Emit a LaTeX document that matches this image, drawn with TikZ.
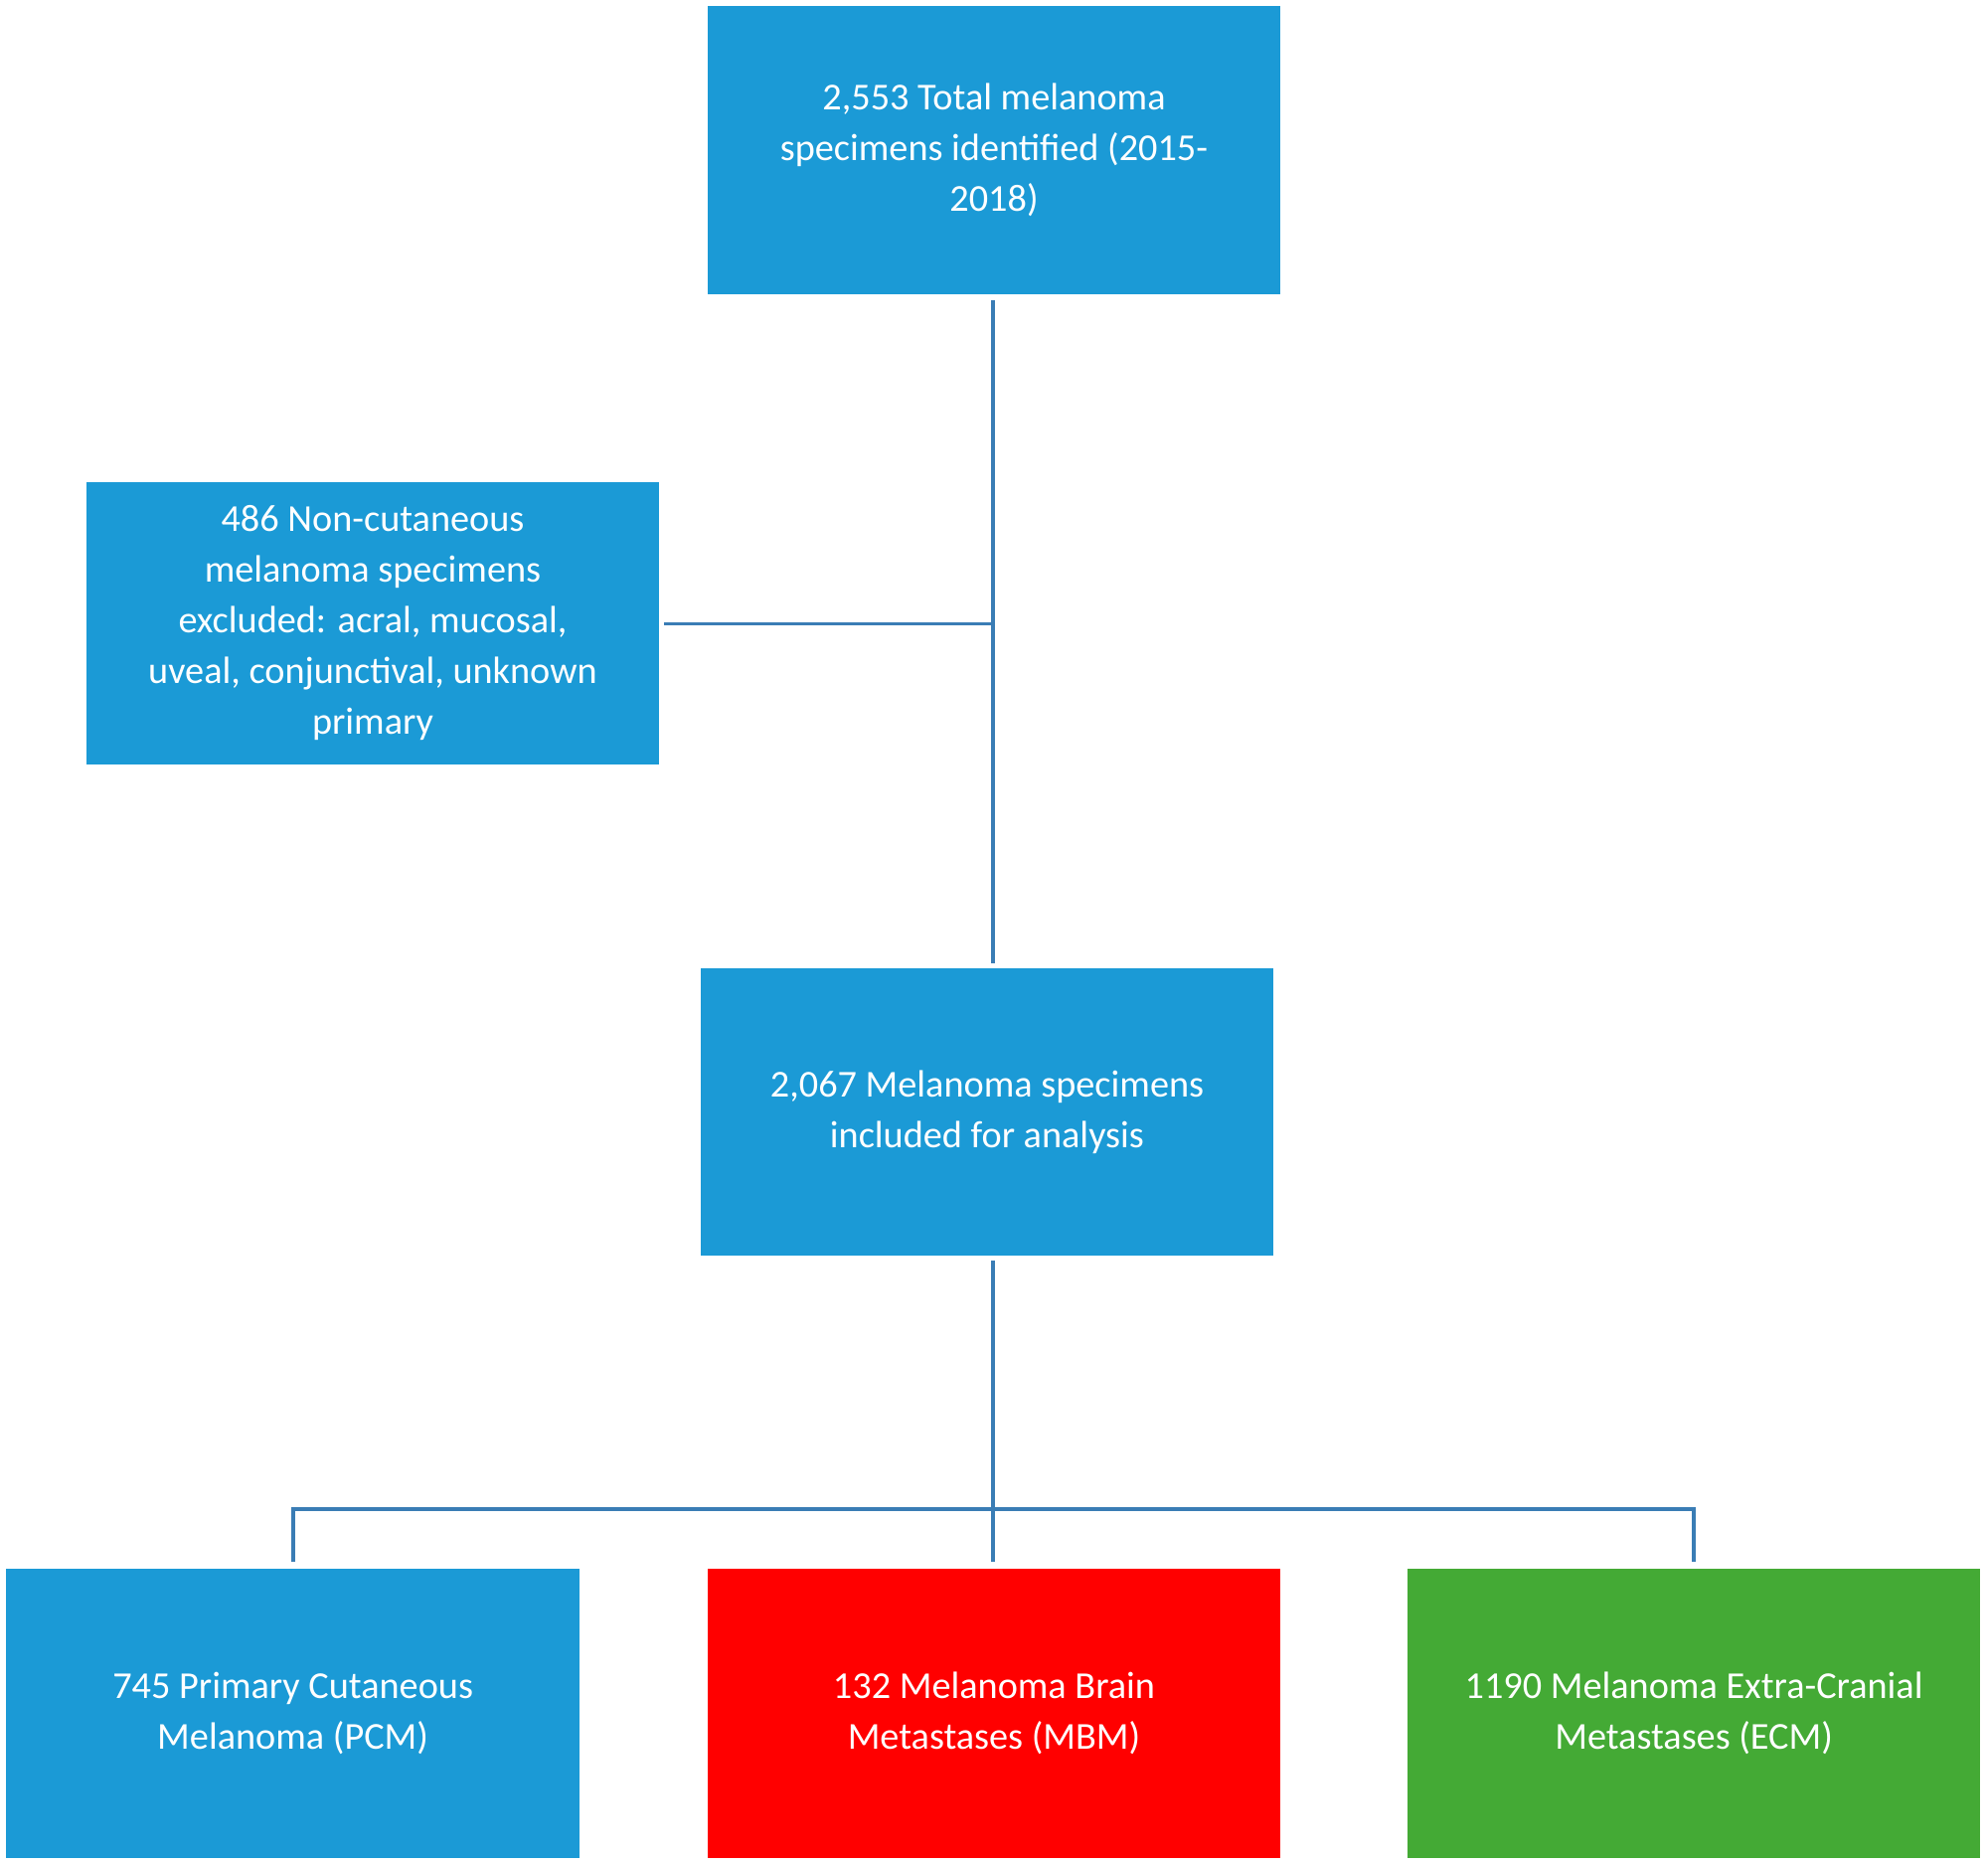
\documentclass[tikz,border=0pt]{standalone}
\usepackage{fontspec}
\setmainfont{Carlito}
\definecolor{bbox}{HTML}{1B9AD6}
\definecolor{rbox}{HTML}{FF0000}
\definecolor{gbox}{HTML}{44AA35}
\definecolor{ln}{HTML}{3A7DB5}
\begin{document}
\begin{tikzpicture}[x=1pt,y=-1pt,
  box/.style={rectangle,fill=#1,text=white,minimum width=452pt,minimum height=227pt,inner sep=0pt,align=center,font=\fontsize{30}{40}\selectfont},
  conn/.style={draw=ln,line width=3pt}]
\useasboundingbox (0,0) rectangle (1568,1470);
\fill[white] (0,0) rectangle (1568,1470);
\node[box=bbox] (top) at (784,118.5) {2,553 Total melanoma\\specimens identified (2015-\\2018)};
\node[box=bbox,minimum height=223pt] (exc) at (294,491.5) {486 Non-cutaneous\\melanoma specimens\\excluded: acral, mucosal,\\uveal, conjunctival, unknown\\primary};
\node[box=bbox] (mid) at (778.5,877) {2,067 Melanoma specimens\\included for analysis};
\node[box=bbox,minimum height=228pt] (pcm) at (231,1351) {745 Primary Cutaneous\\Melanoma (PCM)};
\node[box=rbox,minimum height=228pt] (mbm) at (784,1351) {132 Melanoma Brain\\Metastases (MBM)};
\node[box=gbox,minimum height=228pt] (ecm) at (1336,1351) {1190 Melanoma Extra-Cranial\\Metastases (ECM)};
\coordinate (j1) at (783,492);
\coordinate (j2) at (783,1190);
\draw[conn] (783,237) -- (783,760);
\draw[conn] (j1) -- (524,492);
\draw[conn] (783,994) -- (783,1232);
\draw[conn] (231,1232) -- (231,1190) -- (1336,1190) -- (1336,1232);
\end{tikzpicture}
\end{document}
